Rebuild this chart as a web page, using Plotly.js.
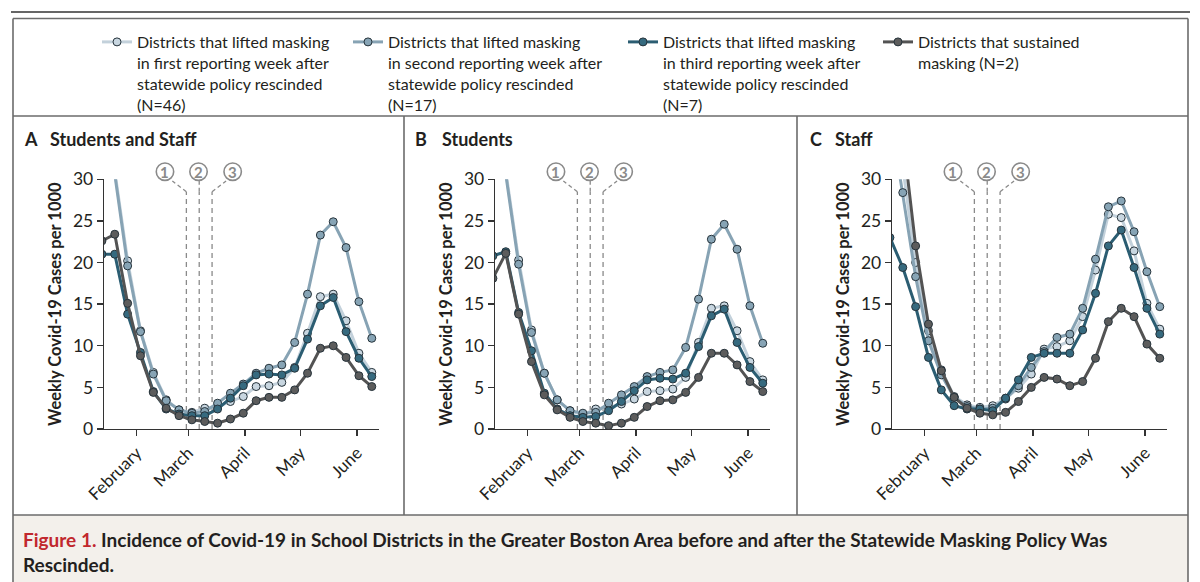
<!DOCTYPE html>
<html>
<head>
<meta charset="utf-8">
<script src="https://cdn.plot.ly/plotly-3.0.1.min.js"></script>
<style>
html,body{margin:0;padding:0;background:#fff;}
#chart{width:1200px;height:582px;}
</style>
</head>
<body>
<div id="chart"></div>
<script>
// ---------------- DATA ----------------
const weeks = ['2022-01-13','2022-01-20','2022-01-27','2022-02-03','2022-02-10','2022-02-17','2022-02-24',
  '2022-03-03','2022-03-10','2022-03-17','2022-03-24','2022-03-31','2022-04-07','2022-04-14','2022-04-21',
  '2022-04-28','2022-05-05','2022-05-12','2022-05-19','2022-05-26','2022-06-02','2022-06-09'];

const seriesNames = [
  'Districts that lifted masking<br>in first reporting week after<br>statewide policy rescinded<br>(N=46)',
  'Districts that lifted masking<br>in second reporting week after<br>statewide policy rescinded<br>(N=17)',
  'Districts that lifted masking<br>in third reporting week after<br>statewide policy rescinded<br>(N=7)',
  'Districts that sustained<br>masking (N=2)'
];

const panelLetters = ['A','B','C'];
const panelTitles = ['Students and Staff','Students','Staff'];
const yAxisTitle = 'Weekly Covid-19 Cases per 1000';

const monthTicks = ['2022-02-01','2022-03-01','2022-04-01','2022-05-01','2022-06-01'];
const monthLabels = ['February','March','April','May','June'];
const yTicks = [0,5,10,15,20,25,30];

const eventDates = ['2022-02-28','2022-03-07','2022-03-14'];
const eventLabels = ['1','2','3'];

// Panel A: Students and Staff
const bothFirst     = [38, 31.0, 20.2, 11.8, 6.8, 3.5, 2.3, 2.0, 2.5, 2.7, 3.3, 3.9, 5.1, 5.2, 5.6, 7.4, 11.5, 15.9, 16.2, 13.0, 9.1, 6.8];
const bothSecond    = [37, 30.6, 19.6, 11.7, 6.6, 3.4, 2.3, 1.9, 2.1, 3.1, 4.3, 5.4, 6.7, 7.3, 7.7, 10.4, 16.2, 23.3, 24.9, 21.8, 15.3, 10.9];
const bothThird     = [21.0, 21.0, 13.8, 9.2, 4.5, 2.4, 1.8, 1.6, 1.6, 2.4, 3.7, 5.2, 6.5, 6.6, 6.5, 7.3, 10.8, 14.8, 15.8, 11.7, 8.5, 6.3];
const bothSustained = [22.6, 23.4, 15.1, 8.8, 4.4, 2.5, 1.6, 1.1, 0.9, 0.7, 1.2, 1.9, 3.4, 3.8, 3.8, 4.7, 6.7, 9.7, 10.0, 8.6, 6.4, 5.1];

// Panel B: Students
const studFirst     = [38, 31.0, 20.3, 11.9, 6.7, 3.5, 2.2, 1.7, 2.4, 2.6, 3.0, 3.6, 4.5, 4.6, 4.8, 6.2, 10.4, 14.5, 14.8, 11.8, 8.1, 5.9];
const studSecond    = [37, 30.6, 19.8, 11.6, 6.7, 3.5, 2.2, 1.9, 2.0, 3.1, 4.1, 5.1, 6.3, 6.8, 7.1, 9.8, 15.6, 22.8, 24.6, 21.6, 14.8, 10.3];
const studThird     = [20.8, 21.3, 14.0, 9.4, 4.3, 2.4, 1.6, 1.4, 1.5, 2.2, 3.3, 4.6, 5.9, 6.1, 6.0, 6.7, 9.9, 13.6, 14.4, 10.4, 7.4, 5.5];
const studSustained = [18.1, 21.1, 13.8, 8.1, 4.1, 2.3, 1.4, 0.9, 0.7, 0.4, 0.7, 1.4, 2.7, 3.4, 3.5, 4.4, 6.2, 9.1, 9.1, 7.7, 5.7, 4.5];

// Panel C: Staff
const staffFirst     = [40, 31.5, 20.0, 11.8, 7.1, 3.9, 2.9, 2.6, 2.8, 3.7, 4.9, 6.6, 9.6, 9.9, 10.6, 13.5, 19.1, 25.8, 25.4, 21.4, 15.1, 12.0];
const staffSecond    = [38, 28.4, 18.3, 10.6, 6.5, 3.8, 2.7, 2.4, 2.5, 3.6, 5.2, 7.4, 9.3, 11.0, 11.4, 14.5, 20.4, 26.7, 27.4, 23.7, 18.9, 14.7];
const staffThird     = [23.0, 19.4, 14.7, 8.6, 4.7, 2.8, 2.4, 2.4, 2.2, 3.7, 5.9, 8.6, 9.1, 9.1, 9.1, 11.9, 16.3, 22.0, 23.9, 19.4, 14.5, 11.4];
const staffSustained = [45, 35.2, 22.0, 12.6, 7.0, 3.8, 2.5, 1.9, 1.7, 2.0, 3.3, 5.0, 6.2, 6.0, 5.2, 5.7, 8.5, 12.9, 14.5, 13.5, 10.2, 8.5];

const panelSeries = [
  [bothFirst, bothSecond, bothThird, bothSustained],
  [studFirst, studSecond, studThird, studSustained],
  [staffFirst, staffSecond, staffThird, staffSustained]
];

// ---------------- STYLE / LAYOUT ----------------
const W = 1200, H = 582;
const px = x => x / W;
const py = y => 1 - y / H;
const FONT = 'Lato, "Open Sans", sans-serif';
const TXT = '#231f20';

const lineColors = ['#c3d1db', '#87a3b4', '#2b5d72', '#535353'];
const fillColors = ['#c8d6e0', '#87a4b5', '#366a7f', '#5c5c5c'];

const panelX = [[104, 378.5], [495, 769.5], [892, 1166.5]];
const plotTop = 179.3, plotBottom = 429;
const xRange = ['2022-01-14 03:00', '2022-06-12 16:00'];
const titleX = [[22, 48], [413, 440], [808, 833]];
const legendTextX = [137, 388, 663, 918];
const legendIds = ['legend', 'legend2', 'legend3', 'legend4'];

const traces = [];
panelSeries.forEach((ser, p) => {
  const sfx = p === 0 ? '' : String(p + 1);
  ser.forEach((vals, s) => {
    traces.push({
      type: 'scatter', mode: 'lines+markers',
      x: weeks, y: vals,
      xaxis: 'x' + sfx, yaxis: 'y' + sfx,
      name: seriesNames[s],
      legend: legendIds[s],
      showlegend: p === 0,
      line: {color: lineColors[s], width: 3},
      marker: {size: 8, color: fillColors[s], line: {color: '#26333b', width: 1}},
      hoverinfo: 'x+y'
    });
  });
});

const layout = {
  width: W, height: H,
  margin: {l: 0, r: 0, t: 0, b: 0},
  paper_bgcolor: '#ffffff', plot_bgcolor: 'rgba(0,0,0,0)',
  font: {family: FONT, color: TXT},
  showlegend: true,
  shapes: [], annotations: []
};

legendIds.forEach((id, i) => {
  layout[id] = {
    orientation: 'v', x: px(legendTextX[i] - 40), y: py(25), xanchor: 'left', yanchor: 'top',
    font: {family: FONT, size: 16, color: TXT},
    valign: 'top', itemwidth: 30, bgcolor: 'rgba(0,0,0,0)', borderwidth: 0,
    itemclick: false, itemdoubleclick: false
  };
});

panelX.forEach((xr, p) => {
  const sfx = p === 0 ? '' : String(p + 1);
  layout['xaxis' + sfx] = {
    domain: [px(xr[0]), px(xr[1])], anchor: 'y' + sfx, type: 'date', range: xRange,
    tickvals: monthTicks, ticktext: monthLabels, tickangle: -45,
    ticks: 'outside', ticklen: 6, tickwidth: 1.3, tickcolor: '#333',
    showline: true, linecolor: '#333', linewidth: 1.3,
    showgrid: false, zeroline: false, fixedrange: true,
    tickfont: {family: FONT, size: 17, color: TXT}
  };
  layout['yaxis' + sfx] = {
    domain: [py(plotBottom), py(plotTop)], anchor: 'x' + sfx, range: [0, 30],
    tickvals: yTicks, ticks: 'outside', ticklen: 6, tickwidth: 1.3, tickcolor: '#333',
    showline: true, linecolor: '#333', linewidth: 1.3,
    showgrid: false, zeroline: false, fixedrange: true,
    tickfont: {family: FONT, size: 17.5, color: TXT},
    title: {text: '<b>' + yAxisTitle + '</b>', font: {family: FONT, size: 16.5, color: TXT}, standoff: 7}
  };

  // panel titles
  layout.annotations.push({
    xref: 'paper', yref: 'paper', x: px(titleX[p][0]), y: py(139), xanchor: 'left', yanchor: 'middle',
    text: '<b>' + panelLetters[p] + '</b>', showarrow: false, font: {family: FONT, size: 18, color: TXT}
  });
  layout.annotations.push({
    xref: 'paper', yref: 'paper', x: px(titleX[p][1]), y: py(139), xanchor: 'left', yanchor: 'middle',
    text: '<b>' + panelTitles[p] + '</b>', showarrow: false, font: {family: FONT, size: 18, color: TXT}
  });

  // policy event markers
  const diag = [-14, 0, 14];
  const circ = [-21.4, -0.7, 20.6];
  eventDates.forEach((d, j) => {
    layout.shapes.push({
      type: 'line', xref: 'x' + sfx, yref: 'paper', x0: d, x1: d,
      y0: py(plotBottom), y1: py(191.7),
      line: {color: '#8a8a8a', width: 1.3, dash: '5px,4px'}, layer: 'below'
    });
    layout.shapes.push({
      type: 'line', xref: 'x' + sfx, xsizemode: 'pixel', xanchor: d, x0: 0, x1: diag[j],
      yref: 'paper', y0: py(191.7), y1: py(181),
      line: {color: '#8a8a8a', width: 1.3, dash: '4px,3px'}
    });
    layout.shapes.push({
      type: 'circle', xref: 'x' + sfx, xsizemode: 'pixel', xanchor: d, x0: circ[j] - 8.7, x1: circ[j] + 8.7,
      yref: 'paper', ysizemode: 'pixel', yanchor: py(171.7), y0: -8.7, y1: 8.7,
      line: {color: '#8a8a8a', width: 1.6}, fillcolor: 'rgba(0,0,0,0)'
    });
    layout.annotations.push({
      xref: 'x' + sfx, yref: 'paper', x: d, xshift: circ[j], y: py(171.7), yshift: 0,
      text: '<b>' + eventLabels[j] + '</b>', showarrow: false, xanchor: 'center', yanchor: 'middle',
      font: {family: FONT, size: 15, color: '#8a8a8a'}
    });
  });
});

// frame
const frameColor = '#6b6b6b';
layout.shapes.push(
  {type: 'rect', xref: 'paper', yref: 'paper', x0: px(13), x1: px(1188), y0: py(582), y1: py(515),
   fillcolor: '#f3f0eb', line: {width: 0}, layer: 'below'},
  {type: 'line', xref: 'paper', yref: 'paper', x0: px(11), x1: px(1190), y0: py(12), y1: py(12),
   line: {color: '#333', width: 1.6}},
  {type: 'line', xref: 'paper', yref: 'paper', x0: px(13), x1: px(1188), y0: py(18.5), y1: py(18.5),
   line: {color: frameColor, width: 1.6}},
  {type: 'line', xref: 'paper', yref: 'paper', x0: px(13), x1: px(13), y0: py(18.5), y1: py(582),
   line: {color: frameColor, width: 1.6}},
  {type: 'line', xref: 'paper', yref: 'paper', x0: px(1188), x1: px(1188), y0: py(18.5), y1: py(582),
   line: {color: frameColor, width: 1.6}},
  {type: 'line', xref: 'paper', yref: 'paper', x0: px(13), x1: px(1188), y0: py(116), y1: py(116),
   line: {color: frameColor, width: 1.6}},
  {type: 'line', xref: 'paper', yref: 'paper', x0: px(13), x1: px(1188), y0: py(515), y1: py(515),
   line: {color: frameColor, width: 1.6}},
  {type: 'line', xref: 'paper', yref: 'paper', x0: px(404), x1: px(404), y0: py(116), y1: py(515),
   line: {color: frameColor, width: 1.6}},
  {type: 'line', xref: 'paper', yref: 'paper', x0: px(797), x1: px(797), y0: py(116), y1: py(515),
   line: {color: frameColor, width: 1.6}}
);

// caption
layout.annotations.push({
  xref: 'paper', yref: 'paper', x: px(21), y: py(539), xanchor: 'left', yanchor: 'middle', align: 'left',
  text: '<b><span style="color:#c1272d">Figure 1.</span> Incidence of Covid-19 in School Districts in the Greater Boston Area before and after the Statewide Masking Policy Was</b>',
  showarrow: false, font: {family: FONT, size: 19, color: TXT}
});
layout.annotations.push({
  xref: 'paper', yref: 'paper', x: px(21), y: py(564), xanchor: 'left', yanchor: 'middle', align: 'left',
  text: '<b>Rescinded.</b>',
  showarrow: false, font: {family: FONT, size: 19, color: TXT}
});

Plotly.newPlot('chart', traces, layout, {displayModeBar: false, staticPlot: true});
</script>
</body>
</html>
